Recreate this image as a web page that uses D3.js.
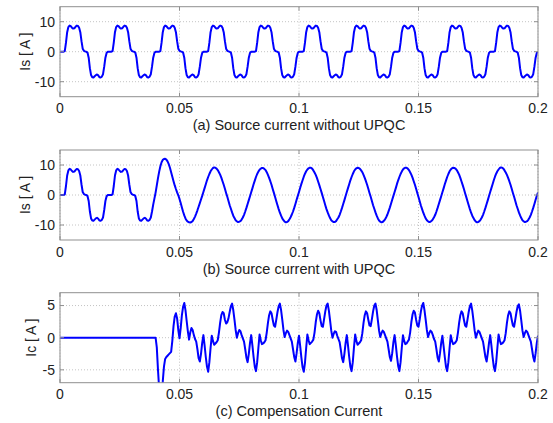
<!DOCTYPE html>
<html>
<head>
<meta charset="utf-8"/>
<title>UPQC currents</title>
<script src="https://cdn.jsdelivr.net/npm/d3@7"></script>
<style>
body { margin: 0; background: #fff; }
svg text { font-family: "Liberation Sans", Arial, sans-serif; fill: #222; }
</style>
</head>
<body>
<script>
// sample step of the waveforms [s]
var dt = 0.0005;

var xTicks = [0, 0.05, 0.1, 0.15, 0.2];
var xTickLabels = ["0", "0.05", "0.1", "0.15", "0.2"];
var isTicks = [-10, 0, 10];
var icTicks = [-5, 0, 5];

// (a) source current without UPQC, one row per 20 ms cycle
var isNoUpqc = [].concat(
 [0,0,0,0,0.2,3,6.5,8.2,8.7,8.5,8,7.7,7.8,8.3,8.7,8.6,8,6.5,3.5,1,0.3,0.1,0,-0.3,-2,-5.5,-7.8,-8.5,-8.6,-8.2,-7.8,-7.6,-7.9,-8.5,-8.6,-8.3,-7.5,-5,-2,-0.4],
 [0,0,0,0,0.2,3,6.5,8.2,8.7,8.5,8,7.7,7.8,8.3,8.7,8.6,8,6.5,3.5,1,0.3,0.1,0,-0.3,-2,-5.5,-7.8,-8.5,-8.6,-8.2,-7.8,-7.6,-7.9,-8.5,-8.6,-8.3,-7.5,-5,-2,-0.4],
 [0,0,0,0,0.2,3,6.5,8.2,8.7,8.5,8,7.7,7.8,8.3,8.7,8.6,8,6.5,3.5,1,0.3,0.1,0,-0.3,-2,-5.5,-7.8,-8.5,-8.6,-8.2,-7.8,-7.6,-7.9,-8.5,-8.6,-8.3,-7.5,-5,-2,-0.4],
 [0,0,0,0,0.2,3,6.5,8.2,8.7,8.5,8,7.7,7.8,8.3,8.7,8.6,8,6.5,3.5,1,0.3,0.1,0,-0.3,-2,-5.5,-7.8,-8.5,-8.6,-8.2,-7.8,-7.6,-7.9,-8.5,-8.6,-8.3,-7.5,-5,-2,-0.4],
 [0,0,0,0,0.2,3,6.5,8.2,8.7,8.5,8,7.7,7.8,8.3,8.7,8.6,8,6.5,3.5,1,0.3,0.1,0,-0.3,-2,-5.5,-7.8,-8.5,-8.6,-8.2,-7.8,-7.6,-7.9,-8.5,-8.6,-8.3,-7.5,-5,-2,-0.4],
 [0,0,0,0,0.2,3,6.5,8.2,8.7,8.5,8,7.7,7.8,8.3,8.7,8.6,8,6.5,3.5,1,0.3,0.1,0,-0.3,-2,-5.5,-7.8,-8.5,-8.6,-8.2,-7.8,-7.6,-7.9,-8.5,-8.6,-8.3,-7.5,-5,-2,-0.4],
 [0,0,0,0,0.2,3,6.5,8.2,8.7,8.5,8,7.7,7.8,8.3,8.7,8.6,8,6.5,3.5,1,0.3,0.1,0,-0.3,-2,-5.5,-7.8,-8.5,-8.6,-8.2,-7.8,-7.6,-7.9,-8.5,-8.6,-8.3,-7.5,-5,-2,-0.4],
 [0,0,0,0,0.2,3,6.5,8.2,8.7,8.5,8,7.7,7.8,8.3,8.7,8.6,8,6.5,3.5,1,0.3,0.1,0,-0.3,-2,-5.5,-7.8,-8.5,-8.6,-8.2,-7.8,-7.6,-7.9,-8.5,-8.6,-8.3,-7.5,-5,-2,-0.4],
 [0,0,0,0,0.2,3,6.5,8.2,8.7,8.5,8,7.7,7.8,8.3,8.7,8.6,8,6.5,3.5,1,0.3,0.1,0,-0.3,-2,-5.5,-7.8,-8.5,-8.6,-8.2,-7.8,-7.6,-7.9,-8.5,-8.6,-8.3,-7.5,-5,-2,-0.4],
 [0,0,0,0,0.2,3,6.5,8.2,8.7,8.5,8,7.7,7.8,8.3,8.7,8.6,8,6.5,3.5,1,0.3,0.1,0,-0.3,-2,-5.5,-7.8,-8.5,-8.6,-8.2,-7.8,-7.6,-7.9,-8.5,-8.6,-8.3,-7.5,-5,-2,-0.4],
 [0]
);

// (b) source current with UPQC (compensation switched on at 0.04 s)
var isUpqc = [].concat(
 [0,0,0,0,0.2,3,6.5,8.2,8.7,8.5,8,7.7,7.8,8.3,8.7,8.6,8,6.5,3.5,1,0.3,0.1,0,-0.3,-2,-5.5,-7.8,-8.5,-8.6,-8.2,-7.8,-7.6,-7.9,-8.5,-8.6,-8.3,-7.5,-5,-2,-0.4],
 [0,0,0,0,0.2,3,6.5,8.2,8.7,8.5,8,7.7,7.8,8.3,8.7,8.6,8,6.5,3.5,1,0.3,0.1,0,-0.3,-2,-5.5,-7.8,-8.5,-8.6,-8.2,-7.8,-7.6,-7.9,-8.5,-8.6,-8.3,-7.5,-5.5,-3.2,-1.2],
 [0.8,3.2,5.6,7.8,9.6,10.9,11.7,12.0,12.1,11.8,11.2,10.3,9.1,7.6,6.1,4.6,3.2,2.0,0.9,-0.1,-1.3,-2.7,-4.2,-5.6,-6.8,-7.8,-8.5,-8.9,-9.1,-9.2,-9.0,-8.7,-8.0,-7.2,-6.2,-5.1,-3.9,-2.7,-1.5,-0.3],
 [1.0,2.3,3.6,4.9,6.0,7.0,7.9,8.5,9.0,9.2,9.1,8.8,8.3,7.6,6.8,5.8,4.6,3.4,2.1,0.7,-0.6,-2.0,-3.4,-4.6,-5.8,-6.9,-7.7,-8.4,-8.8,-9.0,-8.9,-8.7,-8.2,-7.5,-6.6,-5.5,-4.3,-3.0,-1.7,-0.4],
 [0.9,2.2,3.6,4.8,6.0,7.0,7.8,8.4,8.8,9.0,9.0,8.7,8.3,7.6,6.7,5.7,4.6,3.4,2.0,0.7,-0.7,-2.1,-3.4,-4.7,-5.9,-6.9,-7.8,-8.4,-8.9,-9.1,-9.0,-8.7,-8.1,-7.4,-6.5,-5.5,-4.3,-3.0,-1.6,-0.3],
 [1.0,2.4,3.7,4.9,6.1,7.1,7.9,8.5,8.9,9.1,9.1,8.8,8.2,7.5,6.7,5.7,4.5,3.3,2.0,0.7,-0.7,-2.0,-3.4,-4.7,-5.8,-6.8,-7.7,-8.4,-8.8,-9.0,-9.0,-8.7,-8.1,-7.5,-6.6,-5.5,-4.3,-3.0,-1.7,-0.3],
 [1.0,2.3,3.6,4.9,6.0,7.0,7.9,8.5,8.9,9.1,9.0,8.7,8.2,7.6,6.7,5.7,4.6,3.4,2.1,0.7,-0.6,-2.0,-3.4,-4.6,-5.8,-6.9,-7.8,-8.5,-8.9,-9.1,-9.0,-8.6,-8.1,-7.4,-6.5,-5.4,-4.2,-2.9,-1.6,-0.3],
 [1.0,2.3,3.7,4.9,6.0,7.0,7.8,8.5,8.9,9.1,9.1,8.8,8.3,7.6,6.8,5.8,4.6,3.4,2.1,0.7,-0.7,-2.1,-3.5,-4.7,-5.9,-6.9,-7.8,-8.4,-8.8,-9.0,-8.9,-8.6,-8.1,-7.4,-6.6,-5.5,-4.3,-3.0,-1.7,-0.4],
 [0.9,2.2,3.6,4.8,6.0,7.0,7.9,8.5,8.9,9.1,9.0,8.8,8.3,7.6,6.8,5.7,4.5,3.3,2.0,0.6,-0.7,-2.1,-3.4,-4.7,-5.9,-6.9,-7.7,-8.4,-8.9,-9.1,-9.0,-8.7,-8.2,-7.5,-6.6,-5.5,-4.3,-3.0,-1.7,-0.3],
 [1.0,2.3,3.6,4.9,6.1,7.1,7.9,8.5,9.0,9.2,9.1,8.8,8.2,7.5,6.7,5.7,4.6,3.4,2.1,0.7,-0.6,-2.0,-3.4,-4.6,-5.8,-6.8,-7.7,-8.4,-8.8,-9.0,-8.9,-8.7,-8.2,-7.5,-6.6,-5.5,-4.3,-3.0,-1.6,-0.3],
 [0.8]
);

// (c) compensation current
var icComp = [].concat(
 [0,0,0,0,0,0,0,0,0,0,0,0,0,0,0,0,0,0,0,0,0,0,0,0,0,0,0,0,0,0,0,0,0,0,0,0,0,0,0,0],
 [0,0,0,0,0,0,0,0,0,0,0,0,0,0,0,0,0,0,0,0,0,0,0,0,0,0,0,0,0,0,0,0,0,0,0,0,0,0,0,0],
 [0,-1.5,-5,-8,-9,-8.5,-6.8,-4.5,-3.3,-3.0,-2.8,-2.6,-2.4,-2.2,-0.5,1.8,3.3,3.8,3.0,1.2,-0.1,1.5,3.5,4.8,5.4,4.3,2.6,1.0,-0.3,0.8,1.5,1.2,0.4,-0.2,-0.6,-1.8,-3.2,-3.7,-2.5,-0.8],
 [0.4,-1.2,-3.0,-4.5,-5.3,-3.8,-1.6,0.3,-0.5,-1.1,-0.9,-0.7,-0.4,0.8,2.3,3.5,4.0,3.8,2.8,2.2,2.4,3.0,4.0,4.9,5.3,4.3,2.8,1.2,0.0,0.7,1.2,1.0,0.4,-0.1,-0.6,-1.8,-3.1,-3.8,-2.5,-0.8],
 [0.4,-1.2,-3.0,-4.5,-5.2,-3.8,-1.6,0.5,-0.4,-1.0,-0.9,-0.7,-0.4,0.8,2.3,3.5,4.1,3.8,2.8,1.9,1.7,2.8,4.0,4.9,5.3,4.3,2.8,1.2,0.1,0.7,1.1,0.9,0.4,-0.1,-0.6,-1.8,-3.0,-3.7,-2.4,-0.8],
 [0.3,-1.3,-3.1,-4.6,-5.3,-3.9,-1.6,0.5,-0.4,-1.0,-0.8,-0.6,-0.3,0.8,2.4,3.6,4.2,3.8,2.7,1.8,1.7,2.9,4.1,5.0,5.3,4.2,2.7,1.1,0.0,0.6,1.0,0.9,0.3,-0.2,-0.7,-1.9,-3.2,-3.8,-2.5,-0.8],
 [0.4,-1.2,-3.0,-4.5,-5.2,-3.8,-1.5,0.5,-0.5,-1.1,-0.9,-0.7,-0.4,0.7,2.3,3.5,4.1,3.8,2.8,1.9,1.8,2.9,4.1,5.0,5.3,4.3,2.7,1.1,0.1,0.7,1.1,0.9,0.4,-0.1,-0.6,-1.8,-3.0,-3.6,-2.4,-0.7],
 [0.4,-1.1,-2.9,-4.4,-5.2,-3.8,-1.6,0.4,-0.5,-1.0,-0.9,-0.6,-0.3,0.8,2.4,3.6,4.2,3.9,2.8,1.9,1.7,2.8,4.1,5.0,5.4,4.3,2.8,1.2,0.1,0.7,1.1,0.9,0.4,-0.2,-0.6,-1.8,-3.1,-3.7,-2.4,-0.8],
 [0.3,-1.3,-3.0,-4.5,-5.2,-3.8,-1.6,0.4,-0.5,-1.0,-0.9,-0.7,-0.4,0.8,2.3,3.5,4.1,3.8,2.8,1.9,1.7,2.8,4.0,4.9,5.3,4.2,2.7,1.1,0.0,0.6,1.1,0.9,0.4,-0.1,-0.6,-1.8,-3.0,-3.7,-2.4,-0.8],
 [0.4,-1.2,-3.0,-4.5,-5.2,-3.8,-1.6,0.5,-0.4,-1.0,-0.9,-0.7,-0.4,0.7,2.3,3.5,4.1,3.8,2.8,1.9,1.7,2.8,4.0,4.9,5.2,4.2,2.7,1.1,0.1,0.7,1.1,0.9,0.4,-0.1,-0.6,-1.8,-3.0,-3.7,-2.4,-0.8],
 [0.3]
);

var width = 553, height = 423;
var plotLeft = 60, plotRight = 538, plotH = 90;

var svg = d3.select("body").append("svg")
  .attr("width", width)
  .attr("height", height);

var x = d3.scaleLinear().domain([0, 0.2]).range([plotLeft, plotRight]);

var panels = [
  { id: "a", data: isNoUpqc, top: 6.7, domain: [-15, 15], ticks: isTicks,
    ylabel: "Is [ A ]", labelX: 25, title: "(a) Source current without UPQC" },
  { id: "b", data: isUpqc, top: 150, domain: [-15, 15], ticks: isTicks,
    ylabel: "Is [ A ]", labelX: 25, title: "(b) Source current with UPQC" },
  { id: "c", data: icComp, top: 292.7, domain: [-7, 7], ticks: icTicks,
    ylabel: "Ic [ A ]", labelX: 31.5, title: "(c) Compensation Current" }
];

panels.forEach(function(p) {
  var y = d3.scaleLinear().domain(p.domain).range([p.top + plotH, p.top]);
  var g = svg.append("g");

  g.append("clipPath").attr("id", "clip-" + p.id)
    .append("rect")
    .attr("x", plotLeft).attr("y", p.top)
    .attr("width", plotRight - plotLeft).attr("height", plotH);

  // dotted grid
  g.selectAll(".gx").data(xTicks).enter().append("line")
    .attr("x1", function(d) { return x(d); }).attr("x2", function(d) { return x(d); })
    .attr("y1", p.top).attr("y2", p.top + plotH)
    .attr("stroke", "#c4c4c4").attr("stroke-width", 1)
    .attr("stroke-dasharray", "1,2");
  g.selectAll(".gy").data(p.ticks).enter().append("line")
    .attr("x1", plotLeft).attr("x2", plotRight)
    .attr("y1", function(d) { return y(d); }).attr("y2", function(d) { return y(d); })
    .attr("stroke", "#c4c4c4").attr("stroke-width", 1)
    .attr("stroke-dasharray", "1,2");

  // waveform
  var line = d3.line()
    .x(function(d, i) { return x(i * dt); })
    .y(function(d) { return y(d); });
  g.append("path")
    .datum(p.data)
    .attr("clip-path", "url(#clip-" + p.id + ")")
    .attr("fill", "none")
    .attr("stroke", "#0000ff")
    .attr("stroke-width", 2)
    .attr("stroke-linejoin", "round")
    .attr("d", line);

  // box
  g.append("rect")
    .attr("x", plotLeft).attr("y", p.top)
    .attr("width", plotRight - plotLeft).attr("height", plotH)
    .attr("fill", "none").attr("stroke", "#8f8f8f").attr("stroke-width", 1);

  // inward ticks on all sides
  var tl = 4;
  xTicks.forEach(function(d) {
    g.append("line").attr("x1", x(d)).attr("x2", x(d))
      .attr("y1", p.top + plotH).attr("y2", p.top + plotH - tl)
      .attr("stroke", "#8f8f8f");
    g.append("line").attr("x1", x(d)).attr("x2", x(d))
      .attr("y1", p.top).attr("y2", p.top + tl)
      .attr("stroke", "#8f8f8f");
  });
  p.ticks.forEach(function(d) {
    g.append("line").attr("x1", plotLeft).attr("x2", plotLeft + tl)
      .attr("y1", y(d)).attr("y2", y(d)).attr("stroke", "#8f8f8f");
    g.append("line").attr("x1", plotRight).attr("x2", plotRight - tl)
      .attr("y1", y(d)).attr("y2", y(d)).attr("stroke", "#8f8f8f");
  });

  // tick labels
  g.selectAll(".xl").data(xTicks).enter().append("text")
    .attr("x", function(d) { return x(d); })
    .attr("y", p.top + plotH + 16.5)
    .attr("text-anchor", "middle")
    .style("font-size", "14px")
    .text(function(d, i) { return xTickLabels[i]; });
  g.selectAll(".yl").data(p.ticks).enter().append("text")
    .attr("x", plotLeft - 5)
    .attr("y", function(d) { return y(d); })
    .attr("dy", "0.35em")
    .attr("text-anchor", "end")
    .style("font-size", "14px")
    .text(function(d) { return d; });

  // axis label and caption
  g.append("text")
    .attr("transform", "translate(" + p.labelX + "," + (p.top + plotH / 2) + ") rotate(-90)")
    .attr("dy", "0.35em")
    .attr("text-anchor", "middle")
    .style("font-size", "14px")
    .text(p.ylabel);
  g.append("text")
    .attr("x", (plotLeft + plotRight) / 2)
    .attr("y", p.top + plotH + 33.5)
    .attr("text-anchor", "middle")
    .style("font-size", "14.5px")
    .text(p.title);
});
</script>
</body>
</html>
